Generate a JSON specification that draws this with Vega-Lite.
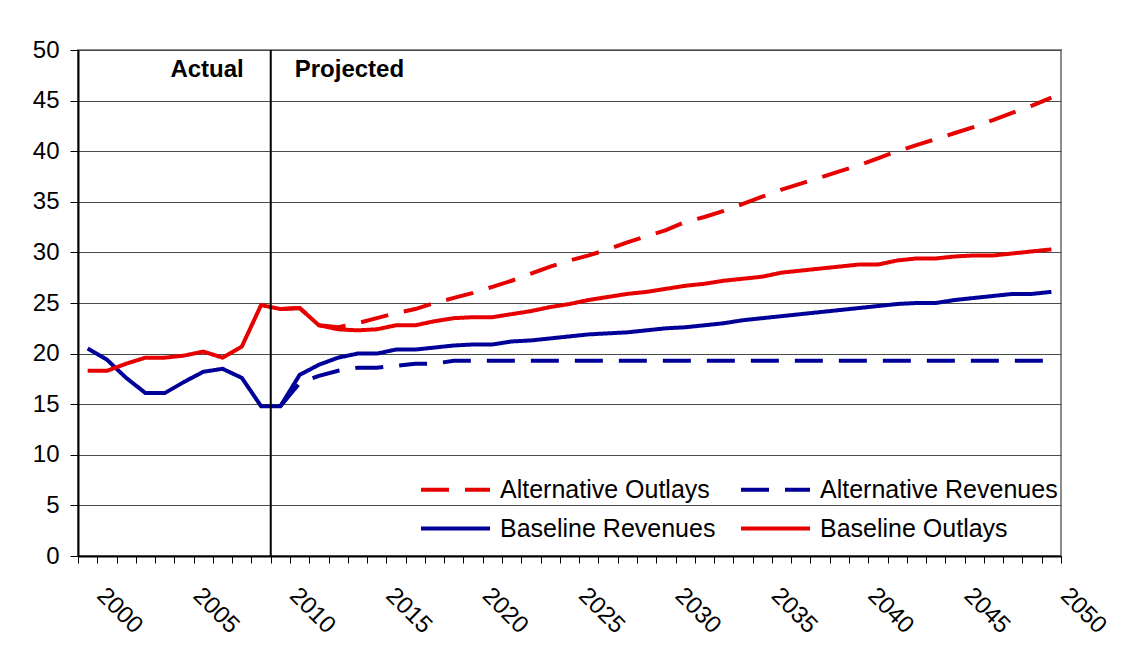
{
  "$schema": "https://vega.github.io/schema/vega-lite/v6.json",
  "width": 983,
  "height": 506,
  "autosize": {"type": "none"},
  "padding": {"left": 78, "top": 50, "right": 69, "bottom": 99},
  "background": "white",
  "config": {
    "view": {"stroke": "#8c8c8c", "strokeWidth": 2},
    "font": "Liberation Sans"
  },
  "resolve": {"axis": {"x": "independent"}},
  "datasets": {
    "series": [
      {"year": 2000, "series": "Baseline Revenues", "value": 20.5},
      {"year": 2001, "series": "Baseline Revenues", "value": 19.4},
      {"year": 2002, "series": "Baseline Revenues", "value": 17.6},
      {"year": 2003, "series": "Baseline Revenues", "value": 16.1},
      {"year": 2004, "series": "Baseline Revenues", "value": 16.1},
      {"year": 2005, "series": "Baseline Revenues", "value": 17.2},
      {"year": 2006, "series": "Baseline Revenues", "value": 18.2},
      {"year": 2007, "series": "Baseline Revenues", "value": 18.5},
      {"year": 2008, "series": "Baseline Revenues", "value": 17.6},
      {"year": 2009, "series": "Baseline Revenues", "value": 14.8},
      {"year": 2010, "series": "Baseline Revenues", "value": 14.8},
      {"year": 2011, "series": "Baseline Revenues", "value": 17.9},
      {"year": 2012, "series": "Baseline Revenues", "value": 18.9},
      {"year": 2013, "series": "Baseline Revenues", "value": 19.6},
      {"year": 2014, "series": "Baseline Revenues", "value": 20.0},
      {"year": 2015, "series": "Baseline Revenues", "value": 20.0},
      {"year": 2016, "series": "Baseline Revenues", "value": 20.4},
      {"year": 2017, "series": "Baseline Revenues", "value": 20.4},
      {"year": 2018, "series": "Baseline Revenues", "value": 20.6},
      {"year": 2019, "series": "Baseline Revenues", "value": 20.8},
      {"year": 2020, "series": "Baseline Revenues", "value": 20.9},
      {"year": 2021, "series": "Baseline Revenues", "value": 20.9},
      {"year": 2022, "series": "Baseline Revenues", "value": 21.2},
      {"year": 2023, "series": "Baseline Revenues", "value": 21.3},
      {"year": 2024, "series": "Baseline Revenues", "value": 21.5},
      {"year": 2025, "series": "Baseline Revenues", "value": 21.7},
      {"year": 2026, "series": "Baseline Revenues", "value": 21.9},
      {"year": 2027, "series": "Baseline Revenues", "value": 22.0},
      {"year": 2028, "series": "Baseline Revenues", "value": 22.1},
      {"year": 2029, "series": "Baseline Revenues", "value": 22.3},
      {"year": 2030, "series": "Baseline Revenues", "value": 22.5},
      {"year": 2031, "series": "Baseline Revenues", "value": 22.6},
      {"year": 2032, "series": "Baseline Revenues", "value": 22.8},
      {"year": 2033, "series": "Baseline Revenues", "value": 23.0},
      {"year": 2034, "series": "Baseline Revenues", "value": 23.3},
      {"year": 2035, "series": "Baseline Revenues", "value": 23.5},
      {"year": 2036, "series": "Baseline Revenues", "value": 23.7},
      {"year": 2037, "series": "Baseline Revenues", "value": 23.9},
      {"year": 2038, "series": "Baseline Revenues", "value": 24.1},
      {"year": 2039, "series": "Baseline Revenues", "value": 24.3},
      {"year": 2040, "series": "Baseline Revenues", "value": 24.5},
      {"year": 2041, "series": "Baseline Revenues", "value": 24.7},
      {"year": 2042, "series": "Baseline Revenues", "value": 24.9},
      {"year": 2043, "series": "Baseline Revenues", "value": 25.0},
      {"year": 2044, "series": "Baseline Revenues", "value": 25.0},
      {"year": 2045, "series": "Baseline Revenues", "value": 25.3},
      {"year": 2046, "series": "Baseline Revenues", "value": 25.5},
      {"year": 2047, "series": "Baseline Revenues", "value": 25.7},
      {"year": 2048, "series": "Baseline Revenues", "value": 25.9},
      {"year": 2049, "series": "Baseline Revenues", "value": 25.9},
      {"year": 2050, "series": "Baseline Revenues", "value": 26.1},

      {"year": 2000, "series": "Baseline Outlays", "value": 18.3},
      {"year": 2001, "series": "Baseline Outlays", "value": 18.3},
      {"year": 2002, "series": "Baseline Outlays", "value": 19.0},
      {"year": 2003, "series": "Baseline Outlays", "value": 19.6},
      {"year": 2004, "series": "Baseline Outlays", "value": 19.6},
      {"year": 2005, "series": "Baseline Outlays", "value": 19.8},
      {"year": 2006, "series": "Baseline Outlays", "value": 20.2},
      {"year": 2007, "series": "Baseline Outlays", "value": 19.6},
      {"year": 2008, "series": "Baseline Outlays", "value": 20.7},
      {"year": 2009, "series": "Baseline Outlays", "value": 24.8},
      {"year": 2010, "series": "Baseline Outlays", "value": 24.4},
      {"year": 2011, "series": "Baseline Outlays", "value": 24.5},
      {"year": 2012, "series": "Baseline Outlays", "value": 22.8},
      {"year": 2013, "series": "Baseline Outlays", "value": 22.4},
      {"year": 2014, "series": "Baseline Outlays", "value": 22.3},
      {"year": 2015, "series": "Baseline Outlays", "value": 22.4},
      {"year": 2016, "series": "Baseline Outlays", "value": 22.8},
      {"year": 2017, "series": "Baseline Outlays", "value": 22.8},
      {"year": 2018, "series": "Baseline Outlays", "value": 23.2},
      {"year": 2019, "series": "Baseline Outlays", "value": 23.5},
      {"year": 2020, "series": "Baseline Outlays", "value": 23.6},
      {"year": 2021, "series": "Baseline Outlays", "value": 23.6},
      {"year": 2022, "series": "Baseline Outlays", "value": 23.9},
      {"year": 2023, "series": "Baseline Outlays", "value": 24.2},
      {"year": 2024, "series": "Baseline Outlays", "value": 24.6},
      {"year": 2025, "series": "Baseline Outlays", "value": 24.9},
      {"year": 2026, "series": "Baseline Outlays", "value": 25.3},
      {"year": 2027, "series": "Baseline Outlays", "value": 25.6},
      {"year": 2028, "series": "Baseline Outlays", "value": 25.9},
      {"year": 2029, "series": "Baseline Outlays", "value": 26.1},
      {"year": 2030, "series": "Baseline Outlays", "value": 26.4},
      {"year": 2031, "series": "Baseline Outlays", "value": 26.7},
      {"year": 2032, "series": "Baseline Outlays", "value": 26.9},
      {"year": 2033, "series": "Baseline Outlays", "value": 27.2},
      {"year": 2034, "series": "Baseline Outlays", "value": 27.4},
      {"year": 2035, "series": "Baseline Outlays", "value": 27.6},
      {"year": 2036, "series": "Baseline Outlays", "value": 28.0},
      {"year": 2037, "series": "Baseline Outlays", "value": 28.2},
      {"year": 2038, "series": "Baseline Outlays", "value": 28.4},
      {"year": 2039, "series": "Baseline Outlays", "value": 28.6},
      {"year": 2040, "series": "Baseline Outlays", "value": 28.8},
      {"year": 2041, "series": "Baseline Outlays", "value": 28.8},
      {"year": 2042, "series": "Baseline Outlays", "value": 29.2},
      {"year": 2043, "series": "Baseline Outlays", "value": 29.4},
      {"year": 2044, "series": "Baseline Outlays", "value": 29.4},
      {"year": 2045, "series": "Baseline Outlays", "value": 29.6},
      {"year": 2046, "series": "Baseline Outlays", "value": 29.7},
      {"year": 2047, "series": "Baseline Outlays", "value": 29.7},
      {"year": 2048, "series": "Baseline Outlays", "value": 29.9},
      {"year": 2049, "series": "Baseline Outlays", "value": 30.1},
      {"year": 2050, "series": "Baseline Outlays", "value": 30.3},

      {"year": 2010, "series": "Alternative Revenues", "value": 14.8},
      {"year": 2011, "series": "Alternative Revenues", "value": 17.1},
      {"year": 2012, "series": "Alternative Revenues", "value": 17.8},
      {"year": 2013, "series": "Alternative Revenues", "value": 18.3},
      {"year": 2014, "series": "Alternative Revenues", "value": 18.6},
      {"year": 2015, "series": "Alternative Revenues", "value": 18.6},
      {"year": 2016, "series": "Alternative Revenues", "value": 18.8},
      {"year": 2017, "series": "Alternative Revenues", "value": 19.0},
      {"year": 2018, "series": "Alternative Revenues", "value": 19.0},
      {"year": 2019, "series": "Alternative Revenues", "value": 19.3},
      {"year": 2020, "series": "Alternative Revenues", "value": 19.3},
      {"year": 2021, "series": "Alternative Revenues", "value": 19.3},
      {"year": 2022, "series": "Alternative Revenues", "value": 19.3},
      {"year": 2023, "series": "Alternative Revenues", "value": 19.3},
      {"year": 2024, "series": "Alternative Revenues", "value": 19.3},
      {"year": 2025, "series": "Alternative Revenues", "value": 19.3},
      {"year": 2026, "series": "Alternative Revenues", "value": 19.3},
      {"year": 2027, "series": "Alternative Revenues", "value": 19.3},
      {"year": 2028, "series": "Alternative Revenues", "value": 19.3},
      {"year": 2029, "series": "Alternative Revenues", "value": 19.3},
      {"year": 2030, "series": "Alternative Revenues", "value": 19.3},
      {"year": 2031, "series": "Alternative Revenues", "value": 19.3},
      {"year": 2032, "series": "Alternative Revenues", "value": 19.3},
      {"year": 2033, "series": "Alternative Revenues", "value": 19.3},
      {"year": 2034, "series": "Alternative Revenues", "value": 19.3},
      {"year": 2035, "series": "Alternative Revenues", "value": 19.3},
      {"year": 2036, "series": "Alternative Revenues", "value": 19.3},
      {"year": 2037, "series": "Alternative Revenues", "value": 19.3},
      {"year": 2038, "series": "Alternative Revenues", "value": 19.3},
      {"year": 2039, "series": "Alternative Revenues", "value": 19.3},
      {"year": 2040, "series": "Alternative Revenues", "value": 19.3},
      {"year": 2041, "series": "Alternative Revenues", "value": 19.3},
      {"year": 2042, "series": "Alternative Revenues", "value": 19.3},
      {"year": 2043, "series": "Alternative Revenues", "value": 19.3},
      {"year": 2044, "series": "Alternative Revenues", "value": 19.3},
      {"year": 2045, "series": "Alternative Revenues", "value": 19.3},
      {"year": 2046, "series": "Alternative Revenues", "value": 19.3},
      {"year": 2047, "series": "Alternative Revenues", "value": 19.3},
      {"year": 2048, "series": "Alternative Revenues", "value": 19.3},
      {"year": 2049, "series": "Alternative Revenues", "value": 19.3},
      {"year": 2050, "series": "Alternative Revenues", "value": 19.3},

      {"year": 2010, "series": "Alternative Outlays", "value": 24.4},
      {"year": 2011, "series": "Alternative Outlays", "value": 24.5},
      {"year": 2012, "series": "Alternative Outlays", "value": 22.8},
      {"year": 2013, "series": "Alternative Outlays", "value": 22.6},
      {"year": 2014, "series": "Alternative Outlays", "value": 23.0},
      {"year": 2015, "series": "Alternative Outlays", "value": 23.5},
      {"year": 2016, "series": "Alternative Outlays", "value": 24.0},
      {"year": 2017, "series": "Alternative Outlays", "value": 24.4},
      {"year": 2018, "series": "Alternative Outlays", "value": 25.0},
      {"year": 2019, "series": "Alternative Outlays", "value": 25.5},
      {"year": 2020, "series": "Alternative Outlays", "value": 26.0},
      {"year": 2021, "series": "Alternative Outlays", "value": 26.6},
      {"year": 2022, "series": "Alternative Outlays", "value": 27.2},
      {"year": 2023, "series": "Alternative Outlays", "value": 27.9},
      {"year": 2024, "series": "Alternative Outlays", "value": 28.6},
      {"year": 2025, "series": "Alternative Outlays", "value": 29.2},
      {"year": 2026, "series": "Alternative Outlays", "value": 29.7},
      {"year": 2027, "series": "Alternative Outlays", "value": 30.3},
      {"year": 2028, "series": "Alternative Outlays", "value": 31.0},
      {"year": 2029, "series": "Alternative Outlays", "value": 31.6},
      {"year": 2030, "series": "Alternative Outlays", "value": 32.2},
      {"year": 2031, "series": "Alternative Outlays", "value": 33.0},
      {"year": 2032, "series": "Alternative Outlays", "value": 33.5},
      {"year": 2033, "series": "Alternative Outlays", "value": 34.1},
      {"year": 2034, "series": "Alternative Outlays", "value": 34.8},
      {"year": 2035, "series": "Alternative Outlays", "value": 35.5},
      {"year": 2036, "series": "Alternative Outlays", "value": 36.2},
      {"year": 2037, "series": "Alternative Outlays", "value": 36.8},
      {"year": 2038, "series": "Alternative Outlays", "value": 37.4},
      {"year": 2039, "series": "Alternative Outlays", "value": 38.0},
      {"year": 2040, "series": "Alternative Outlays", "value": 38.6},
      {"year": 2041, "series": "Alternative Outlays", "value": 39.3},
      {"year": 2042, "series": "Alternative Outlays", "value": 40.0},
      {"year": 2043, "series": "Alternative Outlays", "value": 40.6},
      {"year": 2044, "series": "Alternative Outlays", "value": 41.2},
      {"year": 2045, "series": "Alternative Outlays", "value": 41.8},
      {"year": 2046, "series": "Alternative Outlays", "value": 42.4},
      {"year": 2047, "series": "Alternative Outlays", "value": 43.1},
      {"year": 2048, "series": "Alternative Outlays", "value": 43.8},
      {"year": 2049, "series": "Alternative Outlays", "value": 44.5},
      {"year": 2050, "series": "Alternative Outlays", "value": 45.3}
    ],
    "divider": [{"year": 2009.5}],
    "notes": [
      {"label": "Actual", "year": 2009.5, "value": 47.3, "side": "left"},
      {"label": "Projected", "year": 2009.5, "value": 47.3, "side": "right"}
    ]
  },
  "layer": [
    {
      "data": {"name": "series"},
      "mark": {"type": "line", "strokeWidth": 4},
      "encoding": {
        "x": {
          "field": "year",
          "type": "quantitative",
          "scale": {"domain": [1999.5, 2050.5], "nice": false, "zero": false},
          "axis": {
            "title": null,
            "orient": "bottom",
            "values": [2000, 2005, 2010, 2015, 2020, 2025, 2030, 2035, 2040, 2045, 2050],
            "format": "d",
            "labelAngle": 45,
            "labelAlign": "left",
            "labelBaseline": "top",
            "labelOffset": 21,
            "labelPadding": 20,
            "labelFontSize": 24,
            "labelColor": "black",
            "labelOverlap": false,
            "labelBound": false,
            "labelFlush": false,
            "grid": false,
            "domain": false,
            "ticks": true,
            "tickSize": 7,
            "tickOpacity": 0
          }
        },
        "y": {
          "field": "value",
          "type": "quantitative",
          "scale": {"domain": [0, 50], "nice": false},
          "axis": {
            "title": null,
            "values": [0, 5, 10, 15, 20, 25, 30, 35, 40, 45, 50],
            "labelFontSize": 24,
            "labelColor": "black",
            "labelPadding": 11,
            "tickSize": 8,
            "tickColor": "black",
            "tickWidth": 1,
            "domainColor": "black",
            "domainWidth": 2,
            "grid": true,
            "gridColor": "#4a4a4a",
            "gridWidth": 1.2
          }
        },
        "color": {
          "field": "series",
          "type": "nominal",
          "scale": {
            "domain": ["Alternative Outlays", "Baseline Revenues", "Alternative Revenues", "Baseline Outlays"],
            "range": ["#e60000", "#000099", "#000099", "#e60000"]
          },
          "legend": {
            "title": null,
            "orient": "none",
            "legendX": 387,
            "legendY": 426,
            "columns": 2,
            "columnPadding": 17,
            "rowPadding": 12,
            "symbolType": "M-5,0H1",
            "symbolSize": 529,
            "symbolStrokeWidth": 4,
            "labelFont": "Liberation Sans",
            "labelFontSize": 25,
            "labelOffset": 8,
            "labelColor": "black",
            "labelLimit": 0,
            "padding": 0
          }
        },
        "strokeDash": {
          "field": "series",
          "type": "nominal",
          "scale": {
            "domain": ["Alternative Outlays", "Baseline Revenues", "Alternative Revenues", "Baseline Outlays"],
            "range": [[28, 16], [1, 0], [28, 16], [1, 0]]
          },
          "legend": {
            "title": null,
            "orient": "none",
            "legendX": 387,
            "legendY": 426,
            "columns": 2,
            "columnPadding": 17,
            "rowPadding": 12,
            "symbolType": "M-5,0H1",
            "symbolSize": 529,
            "symbolStrokeWidth": 4,
            "labelFont": "Liberation Sans",
            "labelFontSize": 25,
            "labelOffset": 8,
            "labelColor": "black",
            "labelLimit": 0,
            "padding": 0
          }
        }
      }
    },
    {
      "data": {"name": "divider"},
      "mark": {"type": "rule", "color": "black", "strokeWidth": 2},
      "encoding": {
        "x": {
          "field": "year",
          "type": "quantitative",
          "axis": {
            "title": null,
            "orient": "bottom",
            "values": [1999.5, 2000.5, 2001.5, 2002.5, 2003.5, 2004.5, 2005.5, 2006.5, 2007.5, 2008.5, 2009.5, 2010.5, 2011.5, 2012.5, 2013.5, 2014.5, 2015.5, 2016.5, 2017.5, 2018.5, 2019.5, 2020.5, 2021.5, 2022.5, 2023.5, 2024.5, 2025.5, 2026.5, 2027.5, 2028.5, 2029.5, 2030.5, 2031.5, 2032.5, 2033.5, 2034.5, 2035.5, 2036.5, 2037.5, 2038.5, 2039.5, 2040.5, 2041.5, 2042.5, 2043.5, 2044.5, 2045.5, 2046.5, 2047.5, 2048.5, 2049.5, 2050.5],
            "labels": false,
            "grid": false,
            "domainColor": "black",
            "domainWidth": 2,
            "tickColor": "black",
            "tickSize": 7,
            "tickWidth": 1
          }
        }
      }
    },
    {
      "data": {"name": "notes"},
      "transform": [{"filter": "datum.side == 'left'"}],
      "mark": {"type": "text", "align": "right", "baseline": "alphabetic", "dx": -27, "fontSize": 24, "fontWeight": "bold", "color": "black"},
      "encoding": {
        "x": {"field": "year", "type": "quantitative", "axis": null},
        "y": {"field": "value", "type": "quantitative"},
        "text": {"field": "label"}
      }
    },
    {
      "data": {"name": "notes"},
      "transform": [{"filter": "datum.side == 'right'"}],
      "mark": {"type": "text", "align": "left", "baseline": "alphabetic", "dx": 24, "fontSize": 24, "fontWeight": "bold", "color": "black"},
      "encoding": {
        "x": {"field": "year", "type": "quantitative", "axis": null},
        "y": {"field": "value", "type": "quantitative"},
        "text": {"field": "label"}
      }
    }
  ]
}
